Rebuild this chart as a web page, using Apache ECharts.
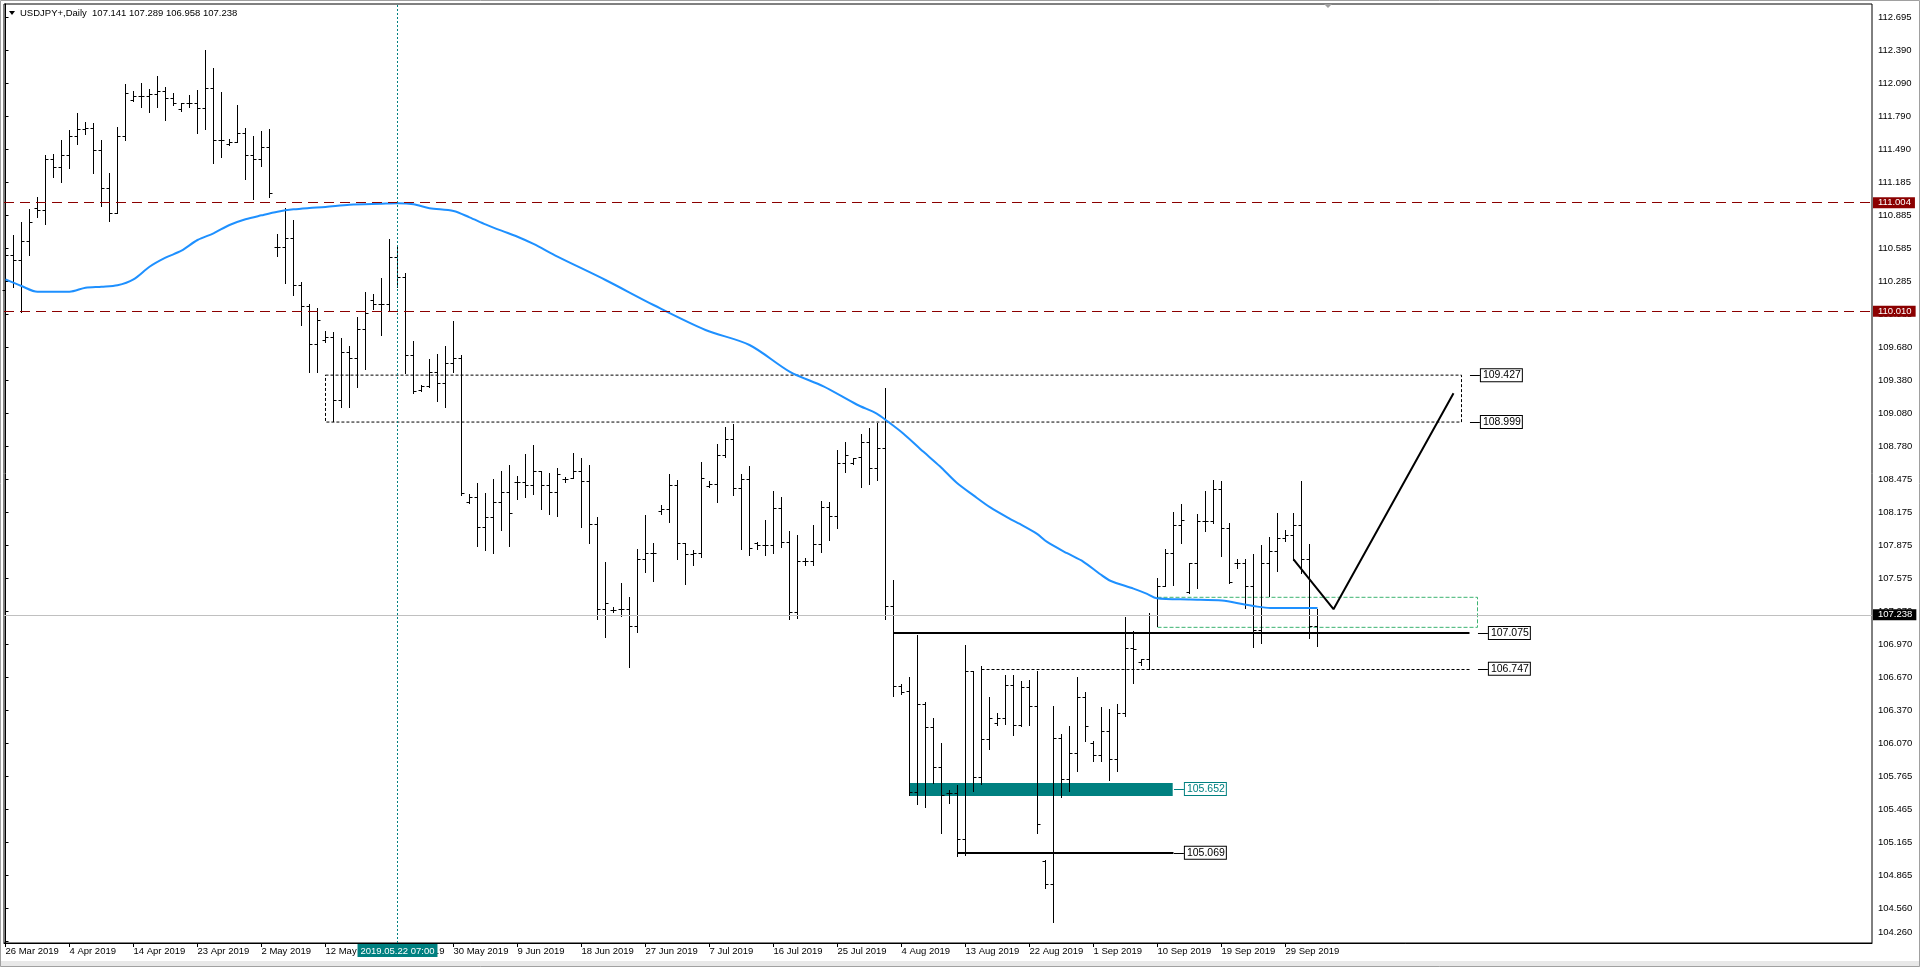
<!DOCTYPE html>
<html><head><meta charset="utf-8">
<script src="https://cdn.jsdelivr.net/npm/echarts@6/dist/echarts.min.js"></script>
<style>html,body{margin:0;padding:0;background:#fff;overflow:hidden}#c{width:1920px;height:967px}</style>
</head><body><div id="c"></div>
<script>
const FONT = 'Liberation Sans, Arial, sans-serif';
const titleText = 'USDJPY+,Daily  107.141 107.289 106.958 107.238';
const firstDate = [2019, 2, 26];            // 26 Mar 2019, broker has Sun-Fri bars
const opens = [110.204,110.521,110.478,110.648,110.950,110.931,111.397,111.326,111.436,111.609,111.673,111.682,111.481,111.132,110.904,111.609,111.935,111.971,111.971,111.990,112.020,111.953,111.858,111.908,111.908,111.865,112.044,111.573,111.533,111.557,111.634,111.433,111.397,111.506,110.594,110.594,110.676,110.250,110.058,109.709,109.748,109.778,109.198,109.636,109.581,109.845,110.113,110.076,110.076,110.502,110.320,109.611,109.292,109.325,109.453,109.355,109.535,109.581,108.272,108.313,108.044,108.136,108.272,108.358,108.455,108.455,108.425,108.553,108.425,108.358,108.482,108.486,108.550,108.459,108.069,107.291,107.284,107.291,107.291,107.138,107.747,107.807,108.188,108.206,108.425,107.896,107.793,107.802,108.416,108.434,108.696,108.845,108.397,108.477,107.898,107.877,107.877,108.212,107.905,107.263,107.733,107.733,107.882,108.220,108.144,108.622,108.628,108.678,108.814,108.579,108.761,107.325,106.595,106.543,105.627,106.429,106.214,105.849,105.610,105.610,105.196,106.728,105.760,106.107,106.257,106.297,106.597,106.231,106.586,106.410,104.997,104.786,106.112,105.741,105.980,106.492,106.074,105.964,106.178,105.923,106.341,106.938,106.806,106.837,107.240,107.500,107.802,108.057,107.446,107.710,108.094,108.094,108.388,108.030,107.710,107.710,107.501,107.099,107.713,107.820,107.939,107.969,108.060,107.747,107.141];
const highs = [110.690,110.706,110.822,110.943,111.055,111.436,111.445,111.573,111.664,111.819,111.734,111.728,111.573,111.274,111.691,112.086,112.020,112.090,112.041,112.157,112.059,112.004,111.913,111.983,112.029,112.394,112.230,112.011,111.582,111.892,111.682,111.609,111.655,111.676,110.715,110.949,110.843,110.280,110.076,110.043,109.830,109.824,109.766,109.693,109.958,110.186,110.165,110.314,110.669,110.608,110.356,109.739,109.337,109.574,109.620,109.693,109.921,109.611,108.343,108.446,108.355,108.480,108.555,108.607,108.510,108.708,108.790,108.553,108.532,108.580,108.501,108.717,108.671,108.607,108.130,107.722,107.314,107.528,107.406,107.841,108.151,107.893,108.245,108.525,108.470,107.896,107.832,108.637,108.464,108.799,108.951,108.979,108.525,108.598,107.905,108.106,108.370,108.318,108.005,107.965,107.760,108.058,108.280,108.270,108.741,108.817,108.671,108.887,108.943,108.990,109.308,107.557,106.605,106.671,107.060,106.449,106.300,106.071,105.644,105.683,106.963,106.728,106.771,106.489,106.340,106.688,106.687,106.640,106.649,106.728,105.006,106.410,106.153,106.225,106.674,106.536,106.090,106.395,106.382,106.429,107.221,107.089,106.837,107.261,107.574,107.845,108.178,108.249,107.710,108.158,108.370,108.470,108.461,108.075,107.747,107.747,107.795,107.877,107.953,108.167,108.014,108.167,108.461,107.887,107.289];
const lows = [109.991,110.229,110.006,110.526,110.873,110.804,111.238,111.192,111.320,111.539,111.630,111.274,110.973,110.834,110.904,111.573,111.926,111.877,111.831,111.877,111.755,111.889,111.840,111.877,111.639,111.670,111.360,111.420,111.524,111.557,111.220,111.037,111.335,111.055,110.517,110.271,110.158,109.885,109.459,109.459,109.732,109.009,109.139,109.139,109.322,109.481,110.028,109.793,110.012,110.234,109.449,109.261,109.285,109.322,109.194,109.139,109.453,108.334,108.258,107.871,107.832,107.807,108.014,107.871,108.297,108.318,108.340,108.206,108.158,108.145,108.455,108.486,108.044,107.893,107.205,107.041,107.269,107.232,106.767,107.086,107.634,107.552,108.158,108.090,107.752,107.522,107.698,107.771,108.404,108.272,108.683,108.336,107.844,107.789,107.838,107.789,107.807,107.856,107.205,107.207,107.693,107.693,107.815,107.925,108.028,108.545,108.612,108.409,108.436,108.472,107.206,106.496,106.522,105.600,105.511,105.484,105.703,105.252,105.521,105.036,105.053,105.637,105.693,106.015,106.234,106.242,106.147,106.222,106.238,105.248,104.745,104.440,105.581,105.635,105.816,106.090,105.908,105.908,105.729,105.816,106.316,106.615,106.781,106.743,107.138,107.499,107.508,107.893,107.437,107.488,108.008,108.075,107.780,107.533,107.665,107.300,106.949,106.986,107.415,107.643,107.914,107.741,107.619,107.032,106.958];
const closes = [110.521,110.478,110.648,110.822,110.931,111.397,111.326,111.436,111.609,111.673,111.682,111.481,111.132,110.904,111.609,111.999,111.971,111.971,111.990,112.020,111.953,111.908,111.908,111.908,111.865,112.044,111.573,111.573,111.557,111.634,111.433,111.397,111.506,111.086,110.594,110.676,110.250,110.058,109.709,109.930,109.778,109.198,109.636,109.581,109.845,109.991,110.076,110.076,110.502,110.320,109.611,109.285,109.325,109.453,109.355,109.535,109.581,108.349,108.313,108.044,108.136,108.272,108.358,108.167,108.455,108.425,108.553,108.425,108.358,108.523,108.482,108.550,108.459,108.069,107.291,107.345,107.284,107.291,107.138,107.747,107.807,107.807,108.206,108.425,107.896,107.793,107.802,108.486,108.434,108.696,108.845,108.397,108.477,107.847,107.877,107.877,108.212,107.905,107.263,107.733,107.733,107.882,108.220,108.144,108.622,108.695,108.668,108.814,108.579,108.761,107.325,106.595,106.539,105.627,106.429,106.214,105.849,105.594,105.610,105.196,106.728,105.760,106.107,106.300,106.297,106.597,106.231,106.586,106.410,105.330,104.786,106.112,105.741,105.980,106.492,106.222,105.964,106.178,105.923,106.341,106.938,106.928,106.837,107.240,107.500,107.802,108.057,108.103,107.710,108.094,108.094,108.388,108.030,107.543,107.710,107.501,107.099,107.713,107.820,107.941,107.969,108.060,107.747,107.141,107.238];
// moving average: bar position -> value
const maIdx = [0,2,4,8,10,12,14,16,18,20,22,24,26,28,30,32,34,36,38,40,43,47,49,51,53,56,58,60,62,64,66,69,75,81,87.5,93,98.06,102.25,106.4,108.9,110.2,112.25,114.75,116.8,118.9,121,123.1,125.6,126.8,128.9,130.2,132.7,134.75,136.8,138.1,141,142.7,143.9,148.1,152.05,154.75,156,158.1,164];
const maVal = [110.301,110.240,110.188,110.188,110.225,110.234,110.247,110.301,110.416,110.499,110.562,110.660,110.721,110.797,110.849,110.885,110.918,110.940,110.952,110.961,110.982,110.991,110.995,110.986,110.950,110.925,110.867,110.803,110.745,110.690,110.624,110.508,110.295,110.067,109.839,109.702,109.457,109.324,109.159,109.076,109.009,108.893,108.727,108.595,108.445,108.330,108.220,108.114,108.069,107.981,107.905,107.802,107.724,107.613,107.551,107.479,107.431,107.391,107.380,107.371,107.336,107.320,107.302,107.302];
const yTicks = [104.260,104.560,104.865,105.165,105.465,105.765,106.070,106.370,106.670,106.970,107.270,107.575,107.875,108.175,108.475,108.780,109.080,109.380,109.680,109.985,110.285,110.585,110.885,111.185,111.490,111.790,112.090,112.390,112.695];
const xLabelStep = 8;
const redLevels = [111.004, 110.010];
const bidPrice = 107.238;
const crossIdx = 49, crossText = '2019.05.22 07:00';
// annotation objects (bar position, price)
const boxTop = 109.427, boxBottom = 108.999, boxFrom = 40, boxTo = 182;
const greenTop = 107.400, greenBottom = 107.126, greenFrom = 144, greenTo = 184;
const tealLevel = 105.652, tealTop = 105.705, tealBottom = 105.588, tealFrom = 113, tealTo = 145.9;
const supLevel = 107.075, supFrom = 111, supTo = 183;
const dotLevel = 106.747, dotFrom = 122, dotTo = 183;
const lowLevel = 105.069, lowFrom = 119, lowTo = 146;
const pathIdx = [161, 166, 181];
const pathVal = [107.745, 107.291, 109.262];

const MON = ['Jan','Feb','Mar','Apr','May','Jun','Jul','Aug','Sep','Oct','Nov','Dec'];
const dates = (function(){const out=[];const d=new Date(Date.UTC(firstDate[0],firstDate[1],firstDate[2]));
  while(out.length<opens.length){ if(d.getUTCDay()!==6) out.push(new Date(d)); d.setUTCDate(d.getUTCDate()+1);} return out;})();
function fmtDate(d){return d.getUTCDate()+' '+MON[d.getUTCMonth()]+' '+d.getUTCFullYear();}
const xLabelVals = []; for(let k=0;k<opens.length;k+=xLabelStep) xLabelVals.push(k);

const bars = opens.map((o,k)=>[k,o,highs[k],lows[k],closes[k]]);

const chart = echarts.init(document.getElementById('c'), null, {renderer:'canvas'});
function renderBar(params, api){
  const i = api.value(0);
  const pO = api.coord([i, api.value(1)]), pH = api.coord([i, api.value(2)]);
  const pL = api.coord([i, api.value(3)]), pC = api.coord([i, api.value(4)]);
  const x = Math.floor(pO[0]) + 0.5;
  const yH = Math.round(pH[1]), yL = Math.round(pL[1]);
  const yO = Math.round(pO[1]) + 0.5, yC = Math.round(pC[1]) + 0.5;
  const st = {stroke:'#000', lineWidth:1};
  return {type:'group', children:[
    {type:'line', shape:{x1:x,y1:yH,x2:x,y2:yL+1}, style:st},
    {type:'line', shape:{x1:x-3,y1:yO,x2:x,y2:yO}, style:st},
    {type:'line', shape:{x1:x,y1:yC,x2:x+3,y2:yC}, style:st}
  ]};
}
function tag(text, color, bg, fg){
  return {show:true, position:'end', distance:1, formatter:text, color:fg||color, backgroundColor:bg||'#fff',
    borderColor:color, borderWidth:1, padding:[1,1,0,2], fontSize:10.5, lineHeight:11, fontFamily:FONT};
}
function axisTag(text, bg){
  return {show:true, position:'end', distance:1, formatter:text, color:'#fff', backgroundColor:bg,
    padding:[1,4,0,5], fontSize:9.5, lineHeight:10, fontFamily:FONT};
}
function seg(x0,x1,price,ls,label){
  const a={coord:[x0,price], lineStyle:ls}; if(label) a.label=label; else a.label={show:false};
  return [a,{coord:[x1,price]}];
}
const blk1 = {color:'#000', width:1, type:'solid'};
const markLines = [
  ...redLevels.map(p=>({yAxis:p, lineStyle:{color:'#8B0000', width:1, type:[10,6]}, label:axisTag(p.toFixed(3), '#8B0000')})),
  {yAxis:bidPrice, lineStyle:{color:'#C0C0C0', width:1, type:'solid'}, label:axisTag(bidPrice.toFixed(3), '#000')},
  seg(supFrom, supTo, supLevel, {color:'#000', width:2, type:'solid'}),
  seg(dotFrom, dotTo, dotLevel, {color:'#000', width:1, type:[3,2]}),
  seg(lowFrom, lowTo, lowLevel, {color:'#000', width:2, type:'solid'}),
  seg(183.06, 184.3, boxTop, blk1, tag(boxTop.toFixed(3), '#000')),
  seg(183.06, 184.3, boxBottom, blk1, tag(boxBottom.toFixed(3), '#000')),
  seg(184.06, 185.3, supLevel, blk1, tag(supLevel.toFixed(3), '#000')),
  seg(184.06, 185.3, dotLevel, blk1, tag(dotLevel.toFixed(3), '#000')),
  seg(146.06, 147.3, tealLevel, {color:'#008080', width:1, type:'solid'}, tag(tealLevel.toFixed(3), '#008080')),
  seg(146.06, 147.3, lowLevel, blk1, tag(lowLevel.toFixed(3), '#000')),
  {xAxis:crossIdx, lineStyle:{color:'#008080', width:1, type:[2,2]},
   label:{show:true, position:'start', distance:1, formatter:crossText, color:'#fff', backgroundColor:'#008080',
     padding:[2,3,1,3], fontSize:9.5, lineHeight:10, fontFamily:FONT}}
];

const option = {
  animation:false,
  backgroundColor:'#fff',
  textStyle:{fontFamily:FONT},
  grid:{left:4, top:4, width:1868, height:939, show:true, borderColor:'#000', borderWidth:1, backgroundColor:'#fff'},
  xAxis:{type:'value', min:-0.1875, max:233.3125,
    axisLine:{show:true, lineStyle:{color:'#000'}},
    axisTick:{show:true, customValues:xLabelVals, length:4, lineStyle:{color:'#000'}},
    axisLabel:{show:true, customValues:xLabelVals, align:'left', margin:3, color:'#000', fontSize:9.5, fontFamily:FONT,
      formatter:v=>{const k=Math.round(v); return dates[k]?fmtDate(dates[k]):'';}},
    splitLine:{show:false}},
  yAxis:{type:'value', position:'right', min:104.2458, max:112.8133, scale:true,
    axisLine:{show:true, lineStyle:{color:'#000'}},
    axisTick:{show:true, customValues:yTicks, length:3, lineStyle:{color:'#000'}},
    axisLabel:{show:true, customValues:yTicks, align:'left', margin:6, color:'#000', fontSize:9.5, fontFamily:FONT,
      formatter:v=> (Math.abs(v-yTicks[0])<1e-6 ? '{b|'+v.toFixed(3)+'}' : v.toFixed(3)),
      rich:{b:{fontSize:9.5, fontFamily:FONT, color:'#000', padding:[0,0,18,0]}}},
    splitLine:{show:false}},
  series:[
    {type:'line', name:'areas', data:[], z:1, silent:true,
     markArea:{silent:true, label:{show:false}, data:[
       [{coord:[tealFrom, tealTop], itemStyle:{color:'#008080', borderWidth:0}}, {coord:[tealTo, tealBottom]}],
       [{coord:[boxFrom, boxTop], itemStyle:{color:'rgba(0,0,0,0)', borderColor:'#000', borderWidth:1, borderType:[3,2]}}, {coord:[boxTo, boxBottom]}],
       [{coord:[greenFrom, greenTop], itemStyle:{color:'rgba(0,0,0,0)', borderColor:'#3CB371', borderWidth:1, borderType:[4,2]}}, {coord:[greenTo, greenBottom]}]
     ]}},
    {type:'custom', name:'USDJPY', data:bars, renderItem:renderBar, z:3, silent:true,
     encode:{x:0, y:[1,2,3,4]}},
    {type:'line', name:'MA', data:maIdx.map((x,k)=>[x, maVal[k]]), showSymbol:false, symbol:'none', smooth:0.3, z:4,
     lineStyle:{color:'#1E90FF', width:2}, silent:true},
    {type:'line', name:'path', data:pathIdx.map((x,k)=>[x, pathVal[k]]), showSymbol:false, symbol:'none', z:5,
     lineStyle:{color:'#000', width:2}, silent:true},
    {type:'line', name:'levels', data:[], z:6, clip:false, silent:true,
     markLine:{silent:true, symbol:['none','none'], animation:false, data:markLines}}
  ],
  graphic:[
    {type:'rect', shape:{x:0, y:961, width:1920, height:6}, style:{fill:'#E8E8E8'}, z:0, silent:true},
    {type:'rect', shape:{x:0.5, y:0.5, width:1919, height:966}, style:{fill:'none', stroke:'#A0A0A0', lineWidth:1}, z:0, silent:true},
    {type:'polygon', shape:{points:[[9,11],[15,11],[12,15]]}, style:{fill:'#000'}, z:10, silent:true},
    {type:'text', x:20, y:13, style:{text:titleText, fill:'#000', font:'9.5px '+FONT, textVerticalAlign:'middle'}, z:10, silent:true},
    {type:'polygon', shape:{points:[[1324,4],[1332,4],[1328,8]]}, style:{fill:'#A0A0A0'}, z:10, silent:true}
  ]
};
chart.setOption(option);
</script></body></html>
